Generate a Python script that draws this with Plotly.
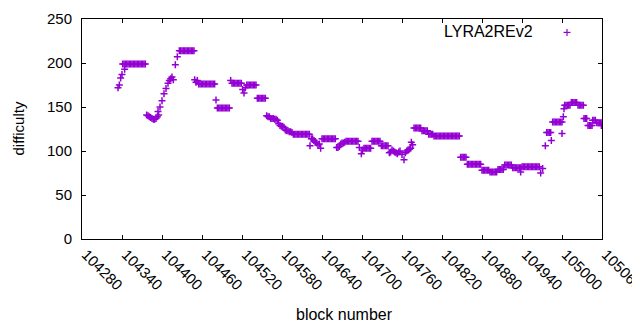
import plotly.graph_objects as go

# ---- data ----
block_number = (
    [104334, 104336, 104338, 104340, 104344]
    + [104341, 104343, 104345, 104347, 104349, 104351, 104353, 104355, 104357, 104359, 104361, 104363, 104365, 104367, 104369, 104371, 104373, 104375]
    + [104377, 104379, 104381, 104383, 104385, 104387, 104389, 104391, 104393, 104395]
    + [104394, 104397, 104400, 104403, 104406, 104409, 104411, 104413, 104415, 104417, 104420, 104423]
    + [104426, 104428, 104430, 104432, 104434, 104436, 104438, 104440, 104442, 104444, 104446, 104448]
    + [104449, 104451, 104453]
    + [104455, 104457, 104459, 104461, 104463, 104465, 104467, 104469, 104471, 104473, 104475, 104477, 104479]
    + [104481]
    + [104483, 104485, 104487, 104489, 104491, 104493, 104495, 104497, 104499, 104501]
    + [104503]
    + [104505, 104507, 104509, 104511, 104513, 104515, 104517, 104519]
    + [104521, 104523, 104525]
    + [104527, 104529, 104531, 104533, 104535, 104537, 104539, 104541]
    + [104543, 104545, 104547, 104549, 104551, 104553, 104555]
    + [104557]
    + [104559, 104561, 104563, 104565, 104567, 104569, 104571, 104573]
    + [104575, 104577, 104579, 104581, 104583]
    + [104585, 104587, 104589, 104591, 104593, 104595]
    + [104597, 104599, 104601, 104603, 104605, 104607, 104609, 104611, 104613, 104615, 104617, 104619, 104621]
    + [104622, 104624, 104626, 104628, 104630, 104632, 104634, 104636, 104638]
    + [104640, 104642, 104644, 104646, 104648, 104650, 104652, 104654, 104656, 104658, 104660]
    + [104662, 104664, 104666, 104668]
    + [104670, 104672, 104674, 104676, 104678, 104680, 104682, 104684, 104686, 104688, 104690, 104692, 104694]
    + [104696, 104699, 104701]
    + [104703, 104705, 104707, 104709, 104711, 104713]
    + [104715, 104717, 104719, 104721, 104723, 104725, 104727]
    + [104729, 104731, 104733, 104735, 104737, 104739]
    + [104741, 104743, 104745, 104747, 104749, 104751, 104753, 104755, 104757]
    + [104760, 104763]
    + [104765, 104767, 104769, 104771, 104773]
    + [104774, 104776]
    + [104778, 104780, 104782, 104784, 104786, 104788]
    + [104790, 104792, 104794, 104796, 104798]
    + [104800, 104802, 104804, 104806]
    + [104808, 104810, 104812, 104814, 104816, 104818, 104820, 104822, 104824, 104826, 104828, 104830, 104832, 104834, 104836, 104838, 104840, 104842, 104844, 104846]
    + [104848, 104850, 104852, 104854, 104856]
    + [104858, 104860, 104862, 104864, 104866, 104868, 104870, 104872, 104874, 104876, 104878]
    + [104880, 104882, 104884, 104886, 104888, 104890]
    + [104892, 104894, 104896, 104898, 104900, 104902]
    + [104904, 104906, 104908, 104910, 104912]
    + [104914, 104916, 104918, 104920, 104922, 104924]
    + [104926, 104928, 104930, 104932, 104934, 104936, 104938, 104938]
    + [104940, 104942, 104944, 104946, 104948, 104950, 104952, 104954, 104956, 104958, 104960, 104962, 104964, 104966]
    + [104968, 104971, 104975]
    + [104977, 104979, 104981, 104983, 104984]
    + [104986, 104988, 104990, 104992, 104994, 104996, 104998, 105000]
    + [105000, 105002, 105003]
    + [105004, 105006, 105008, 105010, 105012]
    + [105014, 105016, 105018, 105020, 105022]
    + [105024, 105026, 105028, 105030, 105032]
    + [105033, 105035, 105037]
    + [105039, 105041, 105043, 105045]
    + [105046, 105048, 105050]
    + [105052, 105054, 105056, 105058, 105060, 105059]
)

difficulty = (
    [172, 175, 183, 187, 193]
    + [199, 199, 199, 199, 199, 199, 199, 199, 199, 199, 199, 199, 199, 199, 199, 199, 199, 199]
    + [141, 140, 139, 138, 137, 136, 136, 137, 139, 141]
    + [145, 150, 157, 165, 171, 177, 180, 182, 184, 181, 198, 207]
    + [214, 214, 214, 214, 214, 214, 214, 214, 214, 214, 214, 214]
    + [181, 178, 180]
    + [176, 176, 176, 176, 176, 176, 176, 176, 176, 176, 176, 176, 176]
    + [158]
    + [149, 149, 149, 149, 149, 149, 149, 149, 149, 149]
    + [180]
    + [177, 177, 177, 177, 177, 177, 177, 177]
    + [170, 166, 172]
    + [175, 175, 175, 175, 175, 175, 175, 175]
    + [160, 160, 160, 160, 160, 160, 160]
    + [140]
    + [139, 139, 137, 137, 137, 136, 136, 135]
    + [131, 129, 128, 128, 127]
    + [124, 123, 123, 122, 122, 121]
    + [119, 119, 119, 119, 119, 119, 119, 119, 119, 119, 119, 119, 119]
    + [106, 114, 114, 112, 110, 109, 107, 108, 103]
    + [114, 114, 114, 114, 114, 114, 114, 114, 114, 114, 114]
    + [104, 104, 105, 108]
    + [109, 109, 110, 111, 111, 111, 111, 111, 111, 111, 111, 111, 111]
    + [104, 97, 101]
    + [103, 103, 103, 103, 103, 103]
    + [111, 111, 111, 111, 111, 111, 111]
    + [106, 106, 106, 106, 106, 106]
    + [98, 99, 101, 100, 99, 98, 97, 99, 100]
    + [96, 90]
    + [98, 100, 101, 102, 103]
    + [110, 107]
    + [126, 126, 126, 126, 126, 126]
    + [123, 123, 123, 123, 123]
    + [119, 119, 119, 119]
    + [117, 117, 117, 117, 117, 117, 117, 117, 117, 117, 117, 117, 117, 117, 117, 117, 117, 117, 117, 117]
    + [93, 93, 93, 93, 93]
    + [85, 85, 85, 85, 85, 85, 85, 85, 85, 85, 85]
    + [78, 78, 78, 78, 78, 78]
    + [76, 76, 76, 76, 76, 76]
    + [79, 79, 79, 79, 79]
    + [84, 84, 84, 84, 84, 84]
    + [81, 81, 81, 81, 81, 81, 81, 76]
    + [82, 82, 82, 82, 82, 82, 82, 82, 82, 82, 82, 82, 82, 82]
    + [75, 80, 106]
    + [121, 121, 121, 121, 112]
    + [133, 133, 133, 133, 133, 133, 133, 133]
    + [120, 139, 148]
    + [152, 152, 152, 152, 152]
    + [155, 155, 155, 155, 155]
    + [152, 152, 152, 152, 152]
    + [137, 137, 137]
    + [129, 129, 129, 129]
    + [135, 135, 135]
    + [132, 132, 132, 132, 132, 129]
)

series_name = "LYRA2REv2"
x_ticks = [104280, 104340, 104400, 104460, 104520, 104580, 104640,
           104700, 104760, 104820, 104880, 104940, 105000, 105060]
x_tick_labels = [str(v) for v in x_ticks]
y_ticks = [0, 50, 100, 150, 200, 250]
y_tick_labels = [str(v) for v in y_ticks]

COLOR = "#9400D3"
FONT = "Liberation Sans"

fig = go.Figure()
fig.add_trace(go.Scatter(
    x=block_number, y=difficulty, mode="markers", name=series_name,
    marker=dict(symbol="cross-thin", size=5, color=COLOR,
                line=dict(color=COLOR, width=1.5)),
    showlegend=False,
))

axis_common = dict(
    showline=True, linecolor="black", linewidth=1, mirror="allticks",
    ticks="inside", ticklen=4, tickcolor="black", tickwidth=1,
    showgrid=False, zeroline=False,
    tickfont=dict(family=FONT, size=15, color="black"),
)

fig.update_xaxes(range=[104280, 105060], tickvals=x_ticks, ticktext=x_tick_labels,
                 tickangle=45, ticklabelshift=4, **axis_common)
fig.update_yaxes(range=[0, 250], tickvals=y_ticks, ticktext=y_tick_labels,
                 ticklabelstandoff=6, **axis_common)

# axis titles
fig.add_annotation(text="block number", xref="paper", yref="paper",
                   x=0.504, y=-0.345, showarrow=False,
                   font=dict(family=FONT, size=16, color="black"),
                   xanchor="center", yanchor="middle")
fig.add_annotation(text="difficulty", xref="paper", yref="paper",
                   x=-0.124, y=0.5, showarrow=False, textangle=-90,
                   font=dict(family=FONT, size=15, color="black"),
                   xanchor="center", yanchor="middle")

# key (gnuplot style: text then sample)
fig.add_annotation(text=series_name, xref="paper", yref="paper",
                   x=0.871, y=0.943, showarrow=False,
                   font=dict(family=FONT, size=16, color="black"),
                   xanchor="right", yanchor="middle")
kx, ky = 0.9327, 0.939
dx, dy = 3.5 / 520, 3.5 / 220
fig.add_shape(type="line", xref="paper", yref="paper",
              x0=kx - dx, x1=kx + dx, y0=ky, y1=ky, line=dict(color=COLOR, width=1.2))
fig.add_shape(type="line", xref="paper", yref="paper",
              x0=kx, x1=kx, y0=ky - dy, y1=ky + dy, line=dict(color=COLOR, width=1.2))

# page body has an 8px default margin, so the plot area is offset by -8px here
fig.update_layout(
    width=640, height=330,
    margin=dict(l=74, r=46, t=11, b=99, autoexpand=False),
    plot_bgcolor="white", paper_bgcolor="white",
    showlegend=False,
    font=dict(family=FONT, size=15, color="black"),
)

fig.write_html("out.html")
